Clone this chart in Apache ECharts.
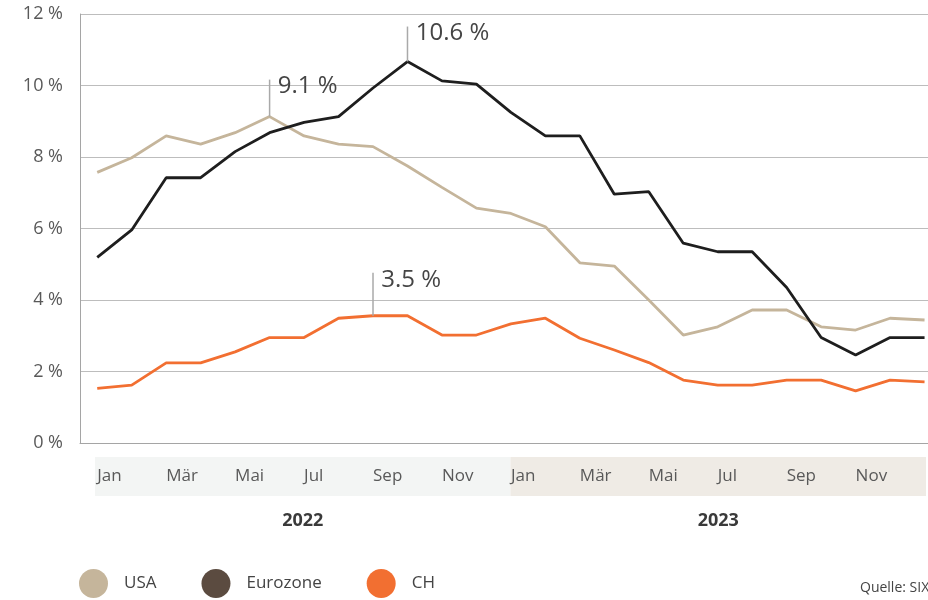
<!DOCTYPE html>
<html>
<head>
<meta charset="utf-8">
<title>Inflation USA / Eurozone / CH</title>
<script src="https://cdn.jsdelivr.net/npm/echarts@6/dist/echarts.min.js"></script>
<style>
    html, body { margin: 0; padding: 0; background: #fff; }
    #chart { width: 928px; height: 600px; }
</style>
</head>
<body>
<div id="chart"></div>
<script>
// Monate Jan 2022 bis Jan 2024
const months = ['Jan', 'Feb', 'Mär', 'Apr', 'Mai', 'Jun', 'Jul', 'Aug', 'Sep', 'Okt', 'Nov', 'Dez',
    'Jan', 'Feb', 'Mär', 'Apr', 'Mai', 'Jun', 'Jul', 'Aug', 'Sep', 'Okt', 'Nov', 'Dez', 'Jan'];
const monthTicks = [0, 2, 4, 6, 8, 10, 12, 14, 16, 18, 20, 22];
const years = ['2022', '2023'];
const yTicks = [0, 2, 4, 6, 8, 10, 12];

const usa = [7.57, 7.98, 8.59, 8.36, 8.68, 9.13, 8.59, 8.36, 8.29, 7.75, 7.15, 6.57,
    6.42, 6.05, 5.04, 4.95, 4.0, 3.02, 3.25, 3.72, 3.72, 3.25, 3.16, 3.49, 3.44];
const eurozone = [5.19, 5.96, 7.42, 7.42, 8.15, 8.68, 8.97, 9.13, 9.93, 10.67, 10.13, 10.04,
    9.25, 8.59, 8.59, 6.96, 7.03, 5.59, 5.35, 5.35, 4.35, 2.95, 2.46, 2.95, 2.95];
const ch = [1.53, 1.62, 2.24, 2.24, 2.55, 2.95, 2.95, 3.49, 3.56, 3.56, 3.02, 3.02,
    3.33, 3.49, 2.93, 2.6, 2.25, 1.76, 1.62, 1.62, 1.76, 1.76, 1.46, 1.76, 1.71];

// Beschriftete Spitzenwerte
const peakUsa = { index: 5, text: '9.1 %' };
const peakEuro = { index: 9, text: '10.6 %' };
const peakCh = { index: 8, text: '3.5 %' };

const FONT = '"Open Sans", "Noto Sans", sans-serif';

function toPoints(values) {
    return values.map((v, i) => [i, v]);
}

// Senkrechter Strich mit Wert über dem Höchstpunkt
function peakMark(values, peak, len) {
    return {
        silent: true,
        symbol: 'rect',
        symbolSize: [1.5, len],
        symbolOffset: [0, -len / 2],
        itemStyle: { color: '#a9a9a9' },
        label: {
            show: true,
            position: [9, -5],
            align: 'left',
            verticalAlign: 'top',
            formatter: '{b}',
            fontFamily: FONT,
            fontSize: 24,
            color: '#454545'
        },
        data: [{ name: peak.text, coord: [peak.index, values[peak.index]] }]
    };
}

const chart = echarts.init(document.getElementById('chart'));

const option = {
    animation: false,
    textStyle: { fontFamily: FONT },
    title: {
        text: 'Quelle: SIX',
        left: 860,
        top: 581,
        padding: 0,
        textStyle: { fontSize: 14, fontWeight: 'normal', color: '#444', fontFamily: FONT }
    },
    legend: {
        data: ['USA', 'Eurozone', 'CH'],
        left: 79,
        top: 569,
        padding: 0,
        icon: 'circle',
        itemWidth: 29,
        itemHeight: 29,
        itemGap: 45,
        textStyle: { fontSize: 17, color: '#444', fontFamily: FONT, padding: [0, 0, 0, 11] }
    },
    grid: [
        { left: 80, right: 0, top: 14, bottom: 157 },
        { left: 95, right: 2, top: 457, height: 39 }
    ],
    xAxis: [
        {
            type: 'value',
            gridIndex: 0,
            min: -0.5,
            max: 24.1,
            z: 5,
            axisLine: { show: true, onZero: false, lineStyle: { color: '#a5a5a5', width: 1 } },
            axisTick: { show: false },
            splitLine: { show: false },
            axisLabel: {
                customValues: monthTicks,
                formatter: v => months[v],
                align: 'left',
                margin: 25,
                fontSize: 17,
                color: '#595959'
            }
        },
        {
            type: 'category',
            gridIndex: 1,
            data: years,
            boundaryGap: true,
            axisLine: { show: false },
            axisTick: { show: false },
            axisLabel: {
                margin: 16,
                fontSize: 18,
                fontWeight: 'bold',
                color: '#3a3a3a'
            }
        }
    ],
    yAxis: [
        {
            type: 'value',
            gridIndex: 0,
            min: yTicks[0],
            max: yTicks[yTicks.length - 1],
            interval: 2,
            axisLine: { show: true, onZero: false, lineStyle: { color: '#a5a5a5', width: 1 } },
            axisTick: { show: false },
            splitLine: { lineStyle: { color: '#bdbdbd', width: 1 } },
            axisLabel: {
                formatter: '{value} %',
                margin: 17,
                fontSize: 18,
                color: '#595959'
            }
        },
        {
            type: 'value',
            gridIndex: 1,
            min: 0,
            max: 1,
            show: false
        }
    ],
    series: [
        {
            name: 'Jahre',
            type: 'bar',
            xAxisIndex: 1,
            yAxisIndex: 1,
            silent: true,
            z: 1,
            barWidth: '100%',
            barCategoryGap: 0,
            data: [
                { value: 1, itemStyle: { color: '#f3f5f4' } },
                { value: 1, itemStyle: { color: '#efebe5' } }
            ]
        },
        {
            name: 'USA',
            type: 'line',
            data: toPoints(usa),
            symbol: 'none',
            itemStyle: { color: '#c5b59b' },
            lineStyle: { color: '#c5b59b', width: 2.8 },
            markPoint: peakMark(usa, peakUsa, 37)
        },
        {
            name: 'Eurozone',
            type: 'line',
            data: toPoints(eurozone),
            symbol: 'none',
            itemStyle: { color: '#5b4b40' },
            lineStyle: { color: '#1e1e1e', width: 2.8 },
            markPoint: peakMark(eurozone, peakEuro, 35)
        },
        {
            name: 'CH',
            type: 'line',
            data: toPoints(ch),
            symbol: 'none',
            itemStyle: { color: '#f26f31' },
            lineStyle: { color: '#f26f31', width: 2.8 },
            markPoint: peakMark(ch, peakCh, 43)
        }
    ]
};

chart.setOption(option);
</script>
</body>
</html>
